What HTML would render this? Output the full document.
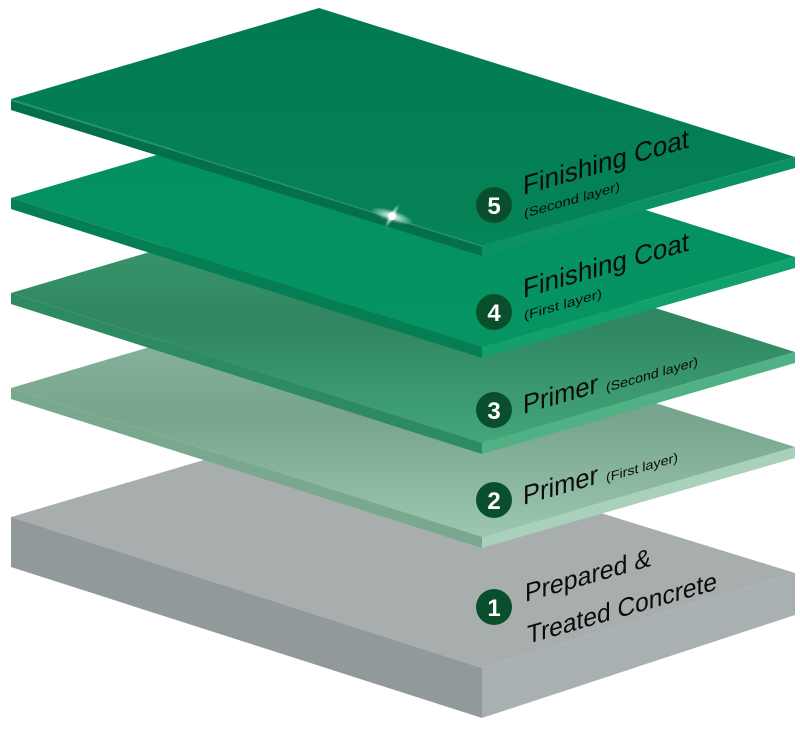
<!DOCTYPE html>
<html><head><meta charset="utf-8"><style>
html,body{margin:0;padding:0;background:#fff;width:800px;height:731px;overflow:hidden}
svg{display:block}
text{font-family:"Liberation Sans",sans-serif;fill:#0b0b0b}
</style></head><body>
<svg width="800" height="731" viewBox="0 0 800 731">
<defs>
<radialGradient id="spark" cx="0.5" cy="0.5" r="0.5"><stop offset="0" stop-color="#fff" stop-opacity="1"/><stop offset="1" stop-color="#fff" stop-opacity="0"/></radialGradient>
<linearGradient id="g5" x1="0" y1="0" x2="0" y2="1"><stop offset="0" stop-color="#027a50"/><stop offset="1" stop-color="#058457"/></linearGradient>
<linearGradient id="g4" x1="0" y1="0" x2="0" y2="1"><stop offset="0" stop-color="#04905f"/><stop offset="1" stop-color="#059462"/></linearGradient>
<linearGradient id="g3" x1="0" y1="0" x2="0" y2="1"><stop offset="0" stop-color="#3c9c70"/><stop offset="0.5" stop-color="#2f8660"/><stop offset="1" stop-color="#44a67a"/></linearGradient>
<linearGradient id="g2" x1="0" y1="0" x2="0" y2="1"><stop offset="0" stop-color="#8fb8a2"/><stop offset="0.5" stop-color="#77a48c"/><stop offset="1" stop-color="#9cc7b0"/></linearGradient>
</defs>

<!-- concrete -->
<polygon points="11,517 319,426 795,573 482,668" fill="#a8aeae"/>
<polygon points="11,517 482,668 482,718 11,567" fill="#92999a"/>
<polygon points="482,668 795,573 795,615 482,718" fill="#a9b0b1"/>

<!-- layer 2 -->
<polygon points="11,388 319,297 795,447 482,537" fill="url(#g2)"/>
<polygon points="11,388 482,537 482,548 11,399" fill="#79a88e"/>
<polygon points="482,537 795,447 795,458 482,548" fill="#a8d0bb"/>
<!-- layer 3 -->
<polygon points="11,293 319,202 795,352 482,443" fill="url(#g3)"/>
<polygon points="11,293 482,443 482,454 11,304" fill="#2e8a60"/>
<polygon points="482,443 795,352 795,363 482,454" fill="#4fb184"/>
<!-- layer 4 -->
<polygon points="11,198 319,107 795,257 482,347" fill="url(#g4)"/>
<polygon points="11,198 482,347 482,358 11,209" fill="#067e54"/>
<polygon points="482,347 795,257 795,268 482,358" fill="#12a06c"/>
<!-- layer 5 -->
<polygon points="11,99 319,8 795,157 482,245" fill="url(#g5)"/>
<polygon points="11,99 482,245 482,256 11,110" fill="#047049"/>
<polygon points="482,245 795,157 795,168 482,256" fill="#0c9262"/>
<line x1="11" y1="100" x2="482" y2="246" stroke="#3cae84" stroke-width="1.5" opacity="0.6"/>
<!-- sparkle -->
<ellipse cx="392" cy="216" rx="22" ry="6" fill="url(#spark)" transform="rotate(17 392 216)"/>
<ellipse cx="392" cy="216" rx="3" ry="14" fill="url(#spark)" transform="rotate(30 392 216)"/>
<circle cx="392" cy="216" r="4" fill="#fff"/>

<!-- badges -->
<g fill="#0a4f2b">
<circle cx="494" cy="205" r="18"/><circle cx="494" cy="312" r="18"/><circle cx="494" cy="410" r="18"/><circle cx="494" cy="500" r="18"/><circle cx="494" cy="607" r="18"/>
</g>
<g font-size="24" font-weight="bold" text-anchor="middle">
<text x="494" y="214" style="fill:#fff">5</text><text x="494" y="321" style="fill:#fff">4</text><text x="494" y="419" style="fill:#fff">3</text><text x="494" y="509" style="fill:#fff">2</text><text x="494" y="616" style="fill:#fff">1</text>
</g>

<!-- labels -->
<g transform="translate(523,195) skewY(-16)"><text font-size="27" textLength="166" lengthAdjust="spacingAndGlyphs">Finishing Coat</text></g>
<g transform="translate(524,218) skewY(-16)"><text font-size="13" textLength="96" lengthAdjust="spacingAndGlyphs">(Second layer)</text></g>
<g transform="translate(523,298) skewY(-16)"><text font-size="27" textLength="166" lengthAdjust="spacingAndGlyphs">Finishing Coat</text></g>
<g transform="translate(524,320) skewY(-16)"><text font-size="13" textLength="78" lengthAdjust="spacingAndGlyphs">(First layer)</text></g>
<g transform="translate(523,414) skewY(-16)"><text font-size="27" textLength="75" lengthAdjust="spacingAndGlyphs">Primer</text></g>
<g transform="translate(606,392) skewY(-16)"><text font-size="13" textLength="92" lengthAdjust="spacingAndGlyphs">(Second layer)</text></g>
<g transform="translate(523,505) skewY(-16)"><text font-size="27" textLength="75" lengthAdjust="spacingAndGlyphs">Primer</text></g>
<g transform="translate(606,482) skewY(-16)"><text font-size="13" textLength="72" lengthAdjust="spacingAndGlyphs">(First layer)</text></g>
<g transform="translate(525,602) skewY(-16)"><text font-size="26" textLength="126" lengthAdjust="spacingAndGlyphs">Prepared &amp;</text></g>
<g transform="translate(527,644) skewY(-16)"><text font-size="26" textLength="190" lengthAdjust="spacingAndGlyphs">Treated Concrete</text></g>
</svg>
</body></html>
